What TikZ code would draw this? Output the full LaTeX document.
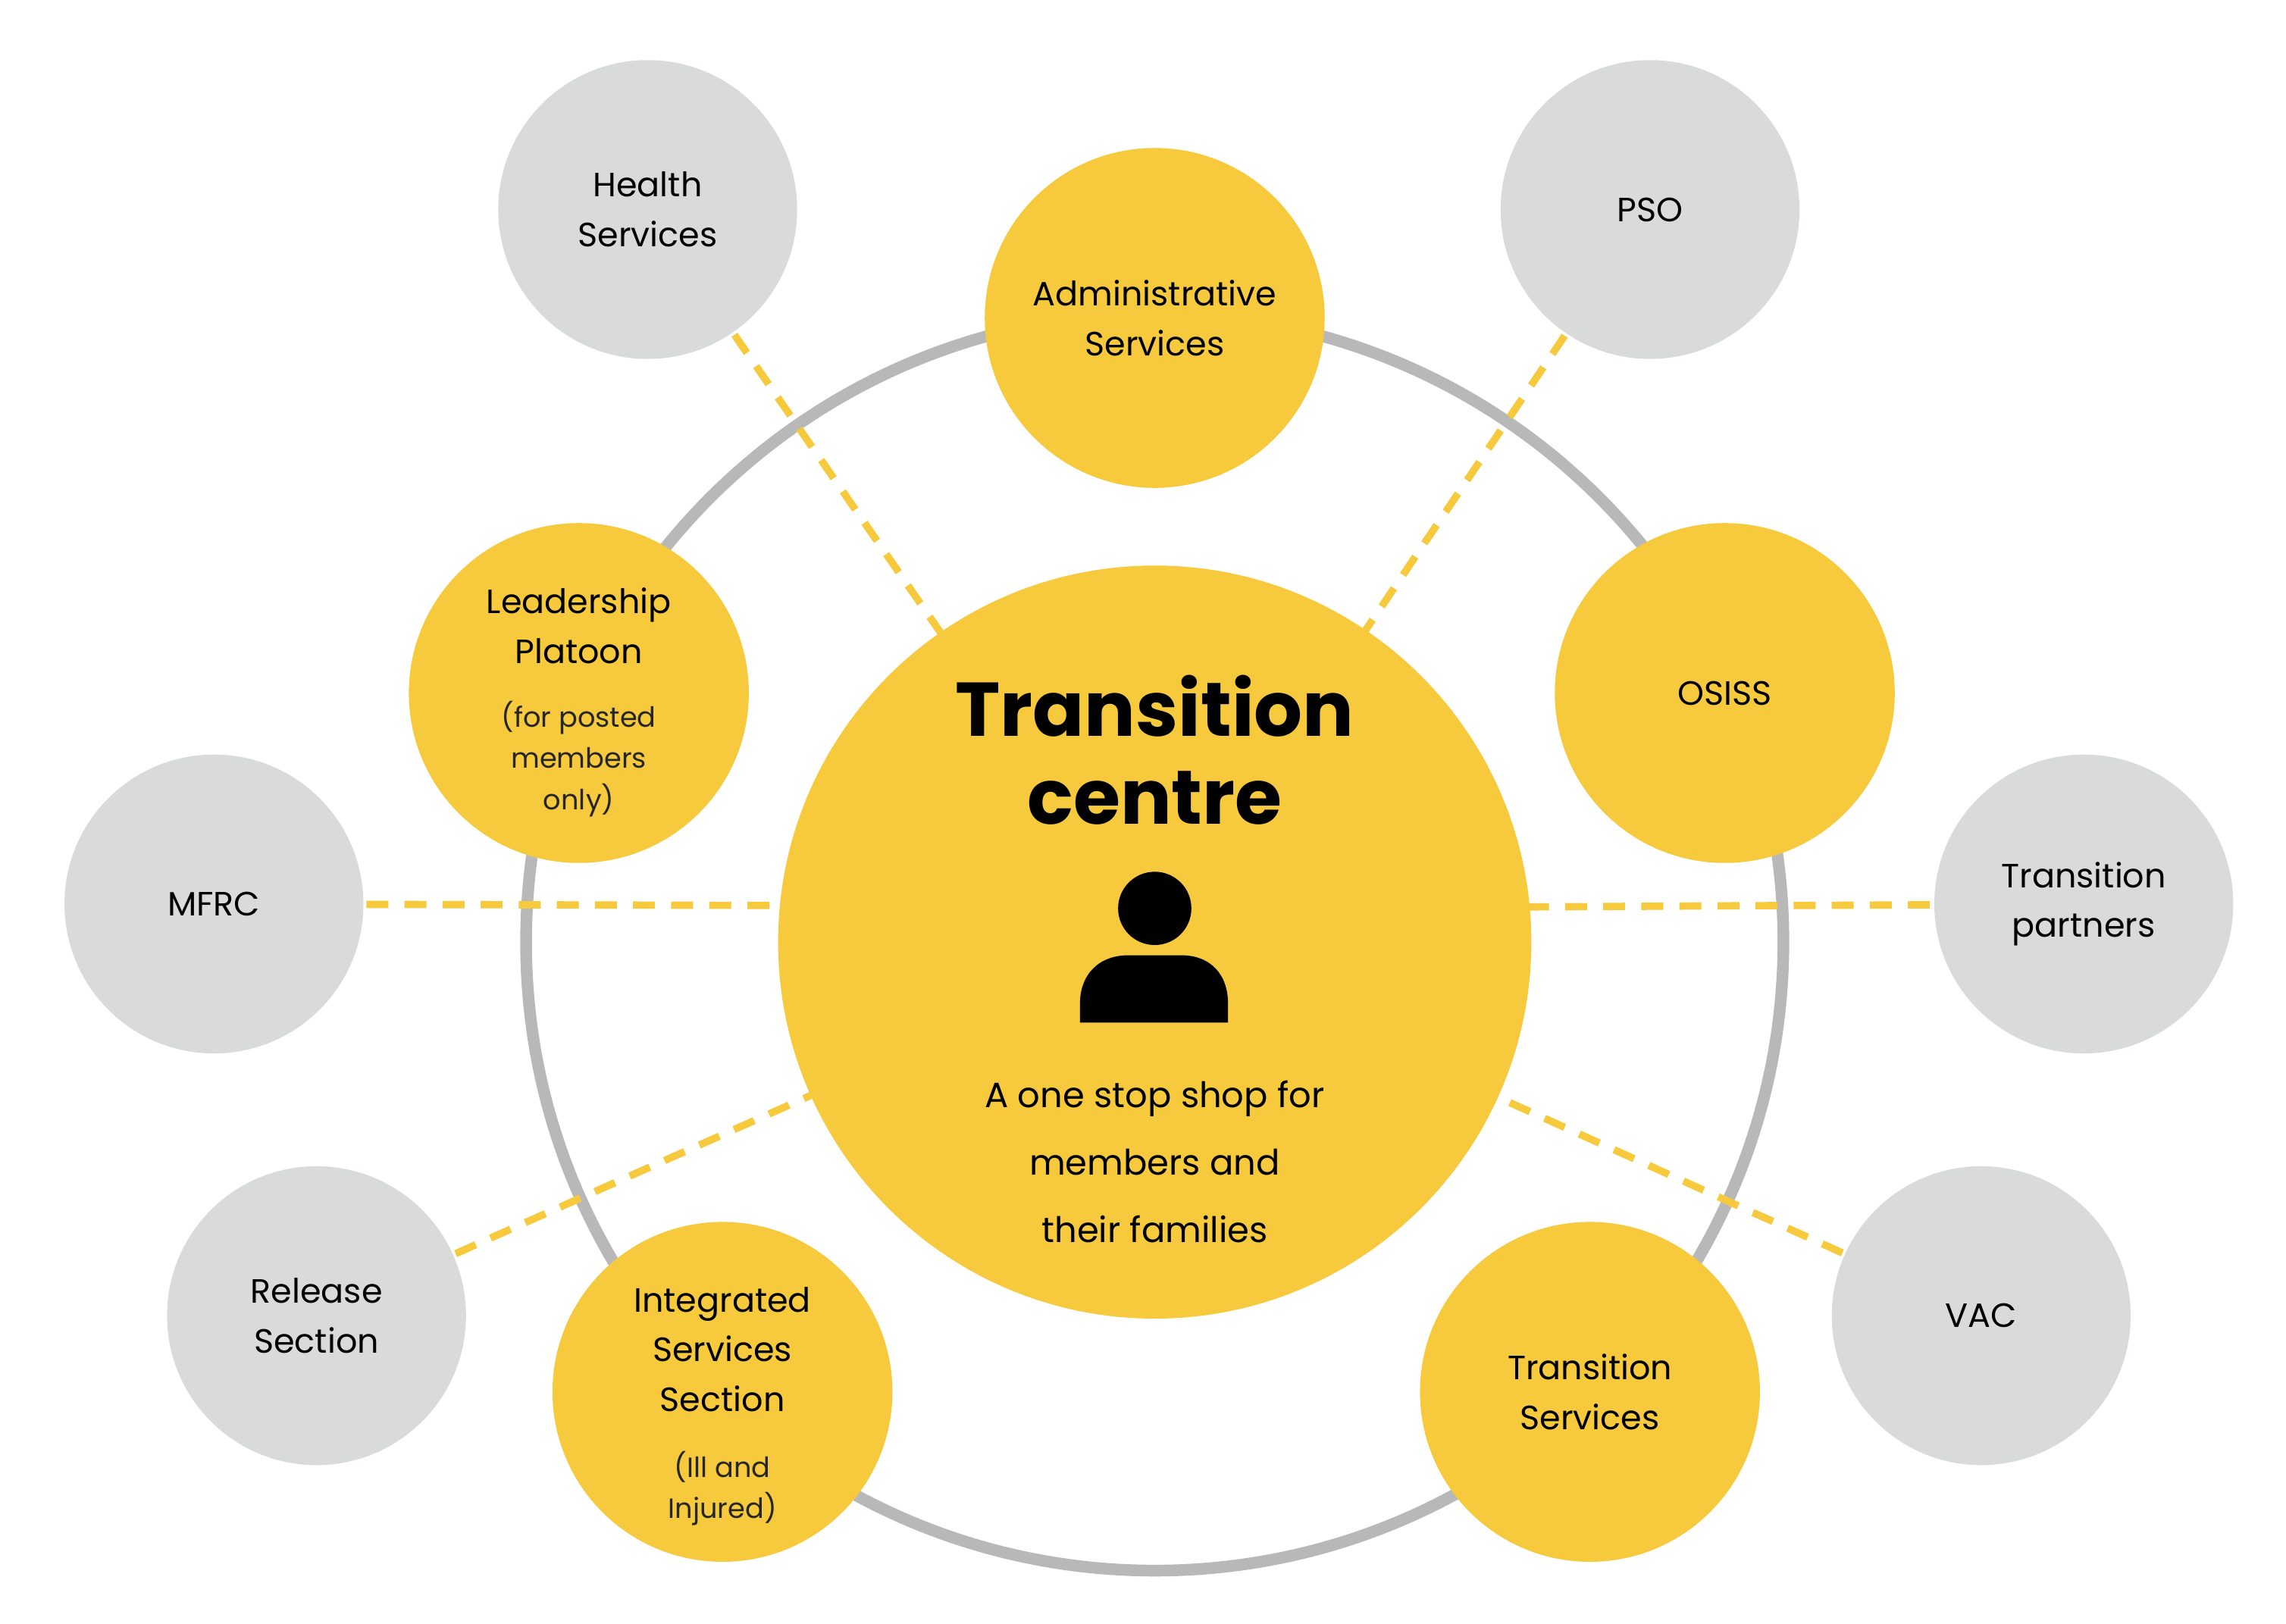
\documentclass[tikz,border=0pt]{standalone}
\usepackage{fontspec}
\setmainfont{Poppins}
\definecolor{yel}{HTML}{F6CA3C}
\definecolor{gry}{HTML}{D9DADA}
\definecolor{ring}{HTML}{B8B8B8}
\begin{document}
\begin{tikzpicture}[x=1pt,y=-1pt,
  ycirc/.style={circle,fill=yel,minimum size=232pt,inner sep=0pt,align=center,font=\fontsize{23}{34}\selectfont},
  gcirc/.style={circle,fill=gry,minimum size=204pt,inner sep=0pt,align=center,font=\fontsize{23}{34}\selectfont},
  ydash/.style={draw=yel,line width=5pt,dash pattern=on 15pt off 11pt},
  big/.style={align=center,font=\fontsize{23}{34}\selectfont},
  small/.style={align=center,text=black!85,font=\fontsize{19}{28}\selectfont}]
\useasboundingbox (0,0) rectangle (1560,1108);
\coordinate (c) at (788,643);
\draw[ring,line width=8pt] (c) circle[radius=429];
\coordinate (h) at (442,143);
\coordinate (p) at (1126,143);
\coordinate (m) at (146,617);
\coordinate (t) at (1422,617);
\coordinate (r) at (216,898);
\coordinate (v) at (1352,898);
\draw[ydash] (h) -- (c); \draw[ydash] (p) -- (c);
\draw[ydash] (m) -- (530,618); \draw[ydash] (1042,619) -- (t);
\draw[ydash] (r) -- (c); \draw[ydash] (v) -- (c);
\node[circle,fill=yel,minimum size=514pt,inner sep=0pt] (cc) at (c) {};
\node[font=\fontsize{52}{60}\selectfont\bfseries,align=center] (title) at (788,512) {Transition\\centre};
\fill[black] (788,620) circle[radius=25];
\fill[black] (737,698) -- (737,685) .. controls (737,665) and (750,652) .. (770,652) -- (806,652) .. controls (826,652) and (838,665) .. (838,685) -- (838,698) -- cycle;
\node[align=center,font=\fontsize{24}{46}\selectfont] (desc) at (788,793) {A one stop shop for\\members and\\their families};
\node[ycirc] (adm) at (788,217) {Administrative\\Services};
\node[ycirc] (lead) at (395,473) {};
\node[big] at (395,427) {Leadership\\Platoon};
\node[small] at (395,518) {(for posted\\members\\only)};
\node[ycirc] (os) at (1177,473) {OSISS};
\node[ycirc] (iss) at (493,950) {};
\node[big] at (493,921) {Integrated\\Services\\Section};
\node[small] at (493,1016) {(Ill and\\Injured)};
\node[ycirc] (ts) at (1085,950) {Transition\\Services};
\node[gcirc] (hs) at (h) {Health\\Services};
\node[gcirc] (pso) at (p) {PSO};
\node[gcirc] (mf) at (m) {MFRC};
\node[gcirc] (tp) at (t) {Transition\\partners};
\node[gcirc] (rs) at (r) {Release\\Section};
\node[gcirc] (va) at (v) {VAC};
\end{tikzpicture}
\end{document}
